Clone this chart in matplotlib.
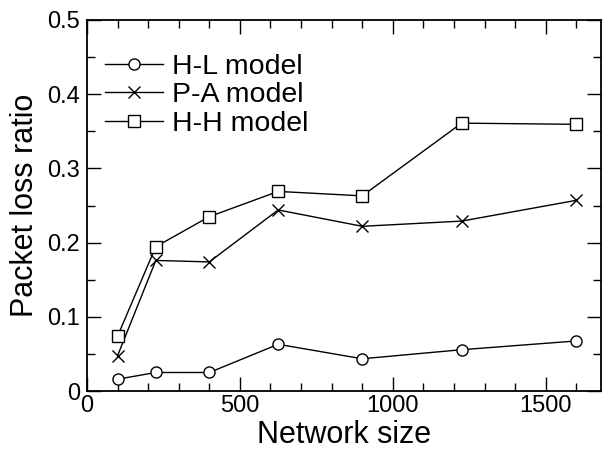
import matplotlib
matplotlib.use("Agg")
import matplotlib.pyplot as plt
from matplotlib.ticker import MultipleLocator

plt.rcParams['font.family'] = ['Liberation Sans', 'DejaVu Sans']

network_size = [100, 225, 400, 625, 900, 1225, 1600]
hl_loss = [0.016, 0.025, 0.025, 0.063, 0.0435, 0.0557, 0.0675]
pa_loss = [0.0476, 0.176, 0.174, 0.244, 0.222, 0.229, 0.257]
hh_loss = [0.074, 0.1945, 0.235, 0.269, 0.263, 0.361, 0.3594]

fig = plt.figure(figsize=(6.02, 4.5), dpi=100)
ax = fig.add_axes([0.1445, 0.131, 0.8535, 0.8246])

style = dict(color='black', lw=1.0, markerfacecolor='white',
             markeredgecolor='black', markeredgewidth=1.0)
ax.plot(network_size, hl_loss, marker='o', markersize=8, label='H-L model', **style)
ax.plot(network_size, pa_loss, marker='x', markersize=8.5, label='P-A model', **style)
ax.plot(network_size, hh_loss, marker='s', markersize=8, label='H-H model', **style)

ax.set_xlim(0, 1680)
ax.set_ylim(0, 0.5)
ax.xaxis.set_major_locator(MultipleLocator(500))
ax.xaxis.set_minor_locator(MultipleLocator(100))
ax.yaxis.set_minor_locator(MultipleLocator(0.05))
ax.set_yticks([0, 0.1, 0.2, 0.3, 0.4, 0.5])
ax.set_yticklabels(['0', '0.1', '0.2', '0.3', '0.4', '0.5'])

ax.tick_params(which='both', direction='in', top=True, right=True,
               labelsize=17, width=1.0)
ax.tick_params(which='major', length=10)
ax.tick_params(which='minor', length=6)
ax.tick_params(axis='x', pad=3)
ax.tick_params(axis='y', pad=5)
for s in ax.spines.values():
    s.set_linewidth(1.3)

ax.set_xlabel('Network size', fontsize=22, labelpad=2)
ax.set_ylabel('Packet loss ratio', fontsize=22, labelpad=5)

ax.legend(loc='upper left', frameon=False, fontsize=20.5, handlelength=2.05,
          handletextpad=0.32, labelspacing=0.08, borderaxespad=0, borderpad=0,
          bbox_to_anchor=(0.035, 0.908))

fig.savefig('out.png', dpi=100)
